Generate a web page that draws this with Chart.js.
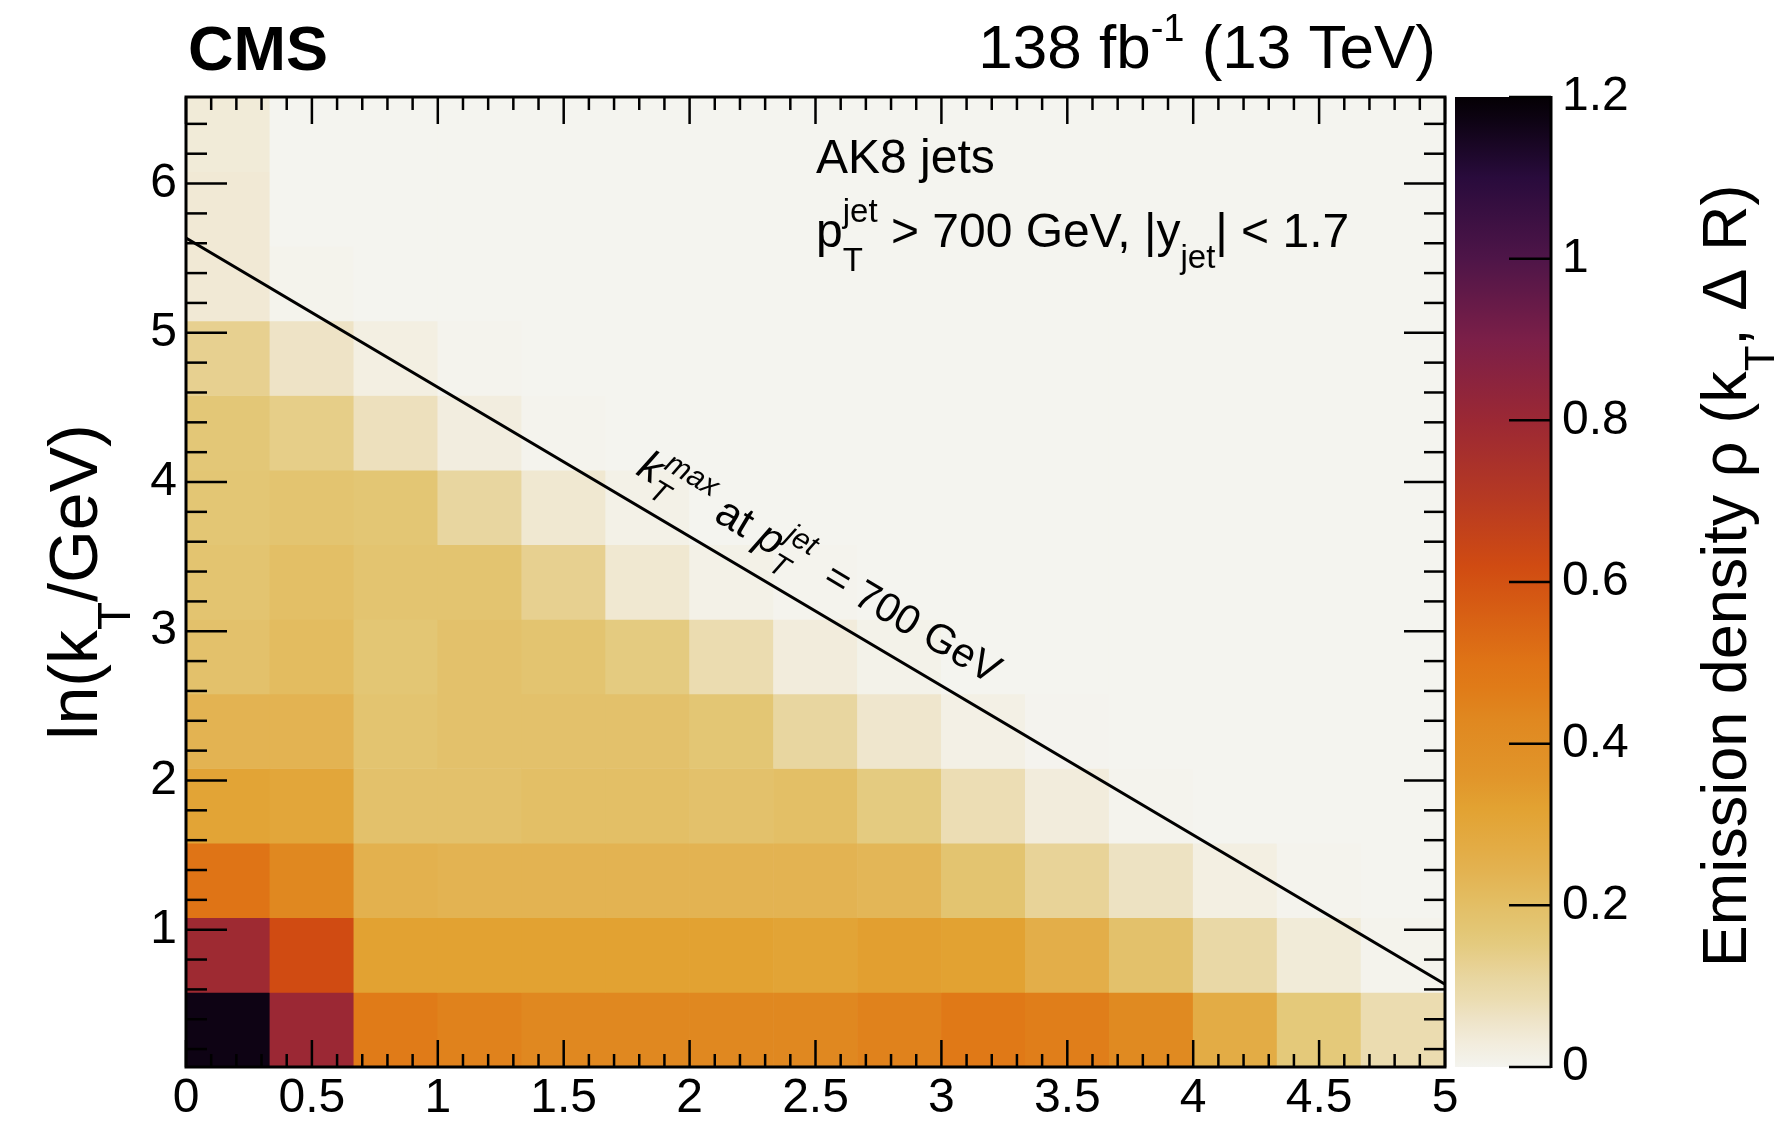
<!DOCTYPE html>
<html>
<head>
<meta charset="utf-8">
<title>Emission density</title>
<script src="https://cdn.jsdelivr.net/npm/chart.js@4.4.1/dist/chart.umd.min.js"></script>
<style>
  html, body { margin: 0; padding: 0; background: #fff; }
  #wrap { width: 1788px; height: 1121px; }
</style>
</head>
<body>
<div id="wrap"><canvas id="lund" width="1788" height="1121"></canvas></div>
<script>
// histogram binning: x = ln(R/dR), y = ln(kT/GeV)
const xEdges = [0, 0.3333, 0.6667, 1, 1.3333, 1.6667, 2, 2.3333, 2.6667, 3, 3.3333, 3.6667, 4, 4.3333, 4.6667, 5];
const yEdges = [0.08, 0.58, 1.08, 1.58, 2.08, 2.58, 3.08, 3.58, 4.08, 4.58, 5.08, 5.58, 6.08, 6.58];

// emission density, one array per ln(kT) row (bottom row first)
const rhoRow1  = [1.17, 0.80, 0.47, 0.45, 0.43, 0.43, 0.43, 0.43, 0.45, 0.48, 0.46, 0.42, 0.27, 0.16, 0.085];
const rhoRow2  = [0.79, 0.62, 0.32, 0.32, 0.32, 0.32, 0.32, 0.31, 0.33, 0.32, 0.26, 0.19, 0.10, 0.035, 0.005];
const rhoRow3  = [0.50, 0.43, 0.25, 0.24, 0.24, 0.24, 0.24, 0.24, 0.23, 0.18, 0.12, 0.065, 0.02, 0.003, 0];
const rhoRow4  = [0.31, 0.30, 0.19, 0.19, 0.20, 0.20, 0.19, 0.20, 0.15, 0.08, 0.03, 0.003, 0, 0, 0];
const rhoRow5  = [0.24, 0.24, 0.18, 0.19, 0.19, 0.19, 0.17, 0.11, 0.05, 0.015, 0.002, 0, 0, 0, 0];
const rhoRow6  = [0.19, 0.21, 0.17, 0.19, 0.18, 0.15, 0.085, 0.03, 0.008, 0, 0, 0, 0, 0, 0];
const rhoRow7  = [0.18, 0.20, 0.18, 0.18, 0.13, 0.045, 0.012, 0.003, 0, 0, 0, 0, 0, 0, 0];
const rhoRow8  = [0.17, 0.18, 0.17, 0.11, 0.045, 0.012, 0, 0, 0, 0, 0, 0, 0, 0, 0];
const rhoRow9  = [0.165, 0.14, 0.07, 0.025, 0.003, 0, 0, 0, 0, 0, 0, 0, 0, 0, 0];
const rhoRow10 = [0.13, 0.06, 0.02, 0.003, 0, 0, 0, 0, 0, 0, 0, 0, 0, 0, 0];
const rhoRow11 = [0.04, 0.004, 0, 0, 0, 0, 0, 0, 0, 0, 0, 0, 0, 0, 0];
const rhoRow12 = [0.04, 0, 0, 0, 0, 0, 0, 0, 0, 0, 0, 0, 0, 0, 0];
const rhoRow13 = [0.035, 0, 0, 0, 0, 0, 0, 0, 0, 0, 0, 0, 0, 0, 0];
const rhoRows = [rhoRow1, rhoRow2, rhoRow3, rhoRow4, rhoRow5, rhoRow6, rhoRow7,
                 rhoRow8, rhoRow9, rhoRow10, rhoRow11, rhoRow12, rhoRow13];

// kT max line for pT = 700 GeV
const lineX = [0, 5];
const lineY = [5.635, 0.635];

// tick labels
const xTicks = [0, 0.5, 1, 1.5, 2, 2.5, 3, 3.5, 4, 4.5, 5];
const yTicks = [1, 2, 3, 4, 5, 6];
const zTicks = [0, 0.2, 0.4, 0.6, 0.8, 1, 1.2];

// colour palette (value -> colour)
const paletteValues = [0, 0.01, 0.03, 0.06, 0.085, 0.11, 0.13, 0.15, 0.17, 0.19, 0.21, 0.24, 0.27,
                       0.32, 0.36, 0.43, 0.47, 0.50, 0.62, 0.70, 0.80, 0.90, 1.00, 1.10, 1.17, 1.20];
const paletteColors = ['#f4f4ef', '#f3f1e8', '#f2ecdc', '#eee3c6', '#ebdcb0', '#e8d6a0', '#e7d090',
                       '#e4cb80', '#e3c674', '#e3c16b', '#e3bc60', '#e3b352', '#e3ac45', '#e2a232',
                       '#e1952a', '#e08820', '#e07b18', '#df7416', '#d04b12', '#b73a22', '#9b2834',
                       '#7b1f48', '#4e1548', '#290b3c', '#0e0314', '#040004'];

const FONT = '"Liberation Sans", Arial, Helvetica, sans-serif';

function hexToRgb(h) {
    return [parseInt(h.slice(1, 3), 16), parseInt(h.slice(3, 5), 16), parseInt(h.slice(5, 7), 16)];
}

function paletteColor(v) {
    if (v <= paletteValues[0]) return paletteColors[0];
    for (let i = 1; i < paletteValues.length; i++) {
        if (v <= paletteValues[i]) {
            const f = (v - paletteValues[i - 1]) / (paletteValues[i] - paletteValues[i - 1]);
            const a = hexToRgb(paletteColors[i - 1]);
            const b = hexToRgb(paletteColors[i]);
            const c = a.map((ch, k) => Math.round(ch + (b[k] - ch) * f));
            return `rgb(${c[0]}, ${c[1]}, ${c[2]})`;
        }
    }
    return paletteColors[paletteColors.length - 1];
}

// text with sub/superscripts
function fontOf(p) {
    return `${p.italic ? 'italic ' : ''}${p.bold ? 'bold ' : ''}${p.size}px ${FONT}`;
}
function segWidth(ctx, s) {
    ctx.font = fontOf(s);
    return ctx.measureText(s.t).width;
}
function partWidth(ctx, p) {
    const extra = Math.max(p.sup ? segWidth(ctx, p.sup) : 0, p.sub ? segWidth(ctx, p.sub) : 0);
    return segWidth(ctx, p) + extra;
}
function drawRich(ctx, x, y, parts, align) {
    const total = parts.reduce((s, p) => s + partWidth(ctx, p), 0);
    let cx = align === 'right' ? x - total : align === 'center' ? x - total / 2 : x;
    ctx.textAlign = 'left';
    ctx.textBaseline = 'alphabetic';
    ctx.fillStyle = '#000';
    for (const p of parts) {
        const w = segWidth(ctx, p);
        ctx.fillText(p.t, cx, y + (p.dy || 0));
        let extra = 0;
        for (const s of [p.sup, p.sub]) {
            if (!s) continue;
            const ws = segWidth(ctx, s);
            ctx.fillText(s.t, cx + w, y + s.dy);
            extra = Math.max(extra, ws);
        }
        cx += w + extra;
    }
}

// build histogram cells as floating bars
const cells = [];
const cellColors = [];
rhoRows.forEach((row, r) => {
    row.forEach((v, c) => {
        cells.push({ x: (xEdges[c] + xEdges[c + 1]) / 2, y: [yEdges[r], yEdges[r + 1]] });
        cellColors.push(paletteColor(v));
    });
});

function strokeLine(ctx, x0, y0, x1, y1) {
    ctx.beginPath();
    ctx.moveTo(x0, y0);
    ctx.lineTo(x1, y1);
    ctx.stroke();
}

// no extra label padding, the frame is placed by hand
function noPad(s) {
    s.paddingTop = 0;
    s.paddingBottom = 0;
    s.paddingLeft = 0;
    s.paddingRight = 0;
}

const decorations = {
    id: 'decorations',
    beforeDatasetsDraw(chart) {
        const { ctx, chartArea: a } = chart;
        ctx.save();
        ctx.fillStyle = paletteColor(0);
        ctx.fillRect(a.left, a.top, a.width, a.height);
        ctx.restore();
    },
    afterDatasetsDraw(chart) {
        const { ctx, chartArea: a, scales } = chart;
        const x = scales.x, y = scales.y, z = scales.cb;
        ctx.save();
        ctx.strokeStyle = '#000';
        ctx.lineCap = 'butt';

        // frame ticks (ROOT style, inside)
        ctx.lineWidth = 2.5;
        for (let i = 0; i <= 50; i++) {
            const px = x.getPixelForValue(i / 10);
            const len = i % 5 === 0 ? 27 : 13;
            strokeLine(ctx, px, a.bottom, px, a.bottom - len);
            strokeLine(ctx, px, a.top, px, a.top + len);
        }
        for (let i = 1; i <= 32; i++) {
            const v = i / 5;
            if (v < y.min || v > y.max) continue;
            const py = y.getPixelForValue(v);
            const len = i % 5 === 0 ? 41 : 21;
            strokeLine(ctx, a.left, py, a.left + len, py);
            strokeLine(ctx, a.right, py, a.right - len, py);
        }
        ctx.lineWidth = 3;
        ctx.strokeRect(a.left, a.top, a.width, a.height);

        // colour bar
        const zl = a.right + 10, zr = a.right + 106;
        const zt = z.getPixelForValue(z.max), zb = z.getPixelForValue(z.min);
        const grad = ctx.createLinearGradient(0, zb, 0, zt);
        paletteValues.forEach((v, i) => grad.addColorStop(v / z.max, paletteColors[i]));
        ctx.fillStyle = grad;
        ctx.fillRect(zl, zt, zr - zl, zb - zt);
        ctx.lineWidth = 3;
        strokeLine(ctx, zr, zt - 1, zr, zb + 1);
        ctx.lineWidth = 2.5;
        zTicks.forEach(v => {
            const py = z.getPixelForValue(v);
            strokeLine(ctx, zr, py, zr - 42, py);
        });

        // kT max label along the line
        const p0x = x.getPixelForValue(lineX[0]), p0y = y.getPixelForValue(lineY[0]);
        const p1x = x.getPixelForValue(lineX[1]), p1y = y.getPixelForValue(lineY[1]);
        const ang = Math.atan2(p1y - p0y, p1x - p0x);
        const ax = 1.73;
        const ay = lineY[0] + (lineY[1] - lineY[0]) * (ax - lineX[0]) / (lineX[1] - lineX[0]);
        ctx.save();
        ctx.translate(x.getPixelForValue(ax), y.getPixelForValue(ay));
        ctx.rotate(ang);
        drawRich(ctx, 0, -26, [
            { t: 'k', size: 43, italic: true,
              sup: { t: 'max', size: 30, italic: true, dy: -19 },
              sub: { t: 'T', size: 30, italic: true, dy: 13 } },
            { t: ' at ', size: 43 },
            { t: 'p', size: 43, italic: true,
              sup: { t: 'jet', size: 30, italic: true, dy: -19 },
              sub: { t: 'T', size: 30, italic: true, dy: 15 } },
            { t: '  = 700 GeV', size: 41 }
        ], 'left');
        ctx.restore();

        ctx.restore();
    },
    afterDraw(chart) {
        const { ctx, chartArea: a } = chart;
        ctx.save();
        // header
        drawRich(ctx, a.left + 2, 70, [{ t: 'CMS', size: 63, bold: true }], 'left');
        drawRich(ctx, a.right - 9, 68, [
            { t: '138 fb', size: 62, sup: { t: '-1', size: 38, dy: -27 } },
            { t: ' (13 TeV)', size: 62 }
        ], 'right');

        // selection text
        drawRich(ctx, 816, 173, [{ t: 'AK8 jets', size: 48 }], 'left');
        drawRich(ctx, 816, 247, [
            { t: 'p', size: 48, sup: { t: 'jet', size: 33, dy: -25 }, sub: { t: 'T', size: 33, dy: 24 } },
            { t: ' > 700 GeV, |y', size: 48 },
            { t: 'jet', size: 33, dy: 21 },
            { t: '| < 1.7', size: 48 }
        ], 'left');

        // y axis title
        ctx.save();
        ctx.translate(97, (a.top + a.bottom) / 2);
        ctx.rotate(-Math.PI / 2);
        drawRich(ctx, 0, 0, [
            { t: 'ln(k', size: 68 },
            { t: 'T', size: 46, dy: 33 },
            { t: '/GeV)', size: 68 }
        ], 'center');
        ctx.restore();

        // colour bar title
        ctx.save();
        ctx.translate(1746, 576);
        ctx.rotate(-Math.PI / 2);
        drawRich(ctx, 0, 0, [
            { t: 'Emission density \u03c1 (k', size: 63 },
            { t: 'T', size: 42, dy: 28 },
            { t: ', \u0394 R)', size: 63 }
        ], 'center');
        ctx.restore();
        ctx.restore();
    }
};

const tickFont = { family: FONT, size: 48 };

new Chart(document.getElementById('lund'), {
    type: 'bar',
    data: {
        datasets: [
            {
                type: 'line',
                label: 'kT max',
                data: lineX.map((v, i) => ({ x: v, y: lineY[i] })),
                borderColor: '#000',
                borderWidth: 3,
                pointRadius: 0,
                fill: false,
                order: 1
            },
            {
                type: 'bar',
                label: 'emission density',
                data: cells,
                backgroundColor: cellColors,
                borderWidth: 0,
                barPercentage: 1,
                categoryPercentage: 1,
                order: 2
            }
        ]
    },
    options: {
        responsive: false,
        devicePixelRatio: 1,
        animation: false,
        events: [],
        layout: { padding: { top: 97, left: 0, right: 0, bottom: 0 } },
        plugins: { legend: { display: false }, tooltip: { enabled: false } },
        scales: {
            x: {
                type: 'linear', min: 0, max: 5, offset: false,
                grid: { display: false, drawTicks: false, offset: false },
                border: { display: false },
                ticks: { autoSkip: false, maxRotation: 0, padding: 3, color: '#000', font: tickFont,
                         callback: v => String(v) },
                afterBuildTicks: s => { s.ticks = xTicks.map(v => ({ value: v })); },
                afterFit: s => { s.height = 54; noPad(s); }
            },
            y: {
                type: 'linear', min: yEdges[0], max: yEdges[yEdges.length - 1],
                grid: { display: false, drawTicks: false },
                border: { display: false },
                ticks: { autoSkip: false, padding: 9, color: '#000', font: tickFont,
                         callback: v => String(v) },
                afterBuildTicks: s => { s.ticks = yTicks.map(v => ({ value: v })); },
                afterFit: s => { s.width = 186; noPad(s); }
            },
            cb: {
                type: 'linear', position: 'right', min: 0, max: 1.2,
                grid: { display: false, drawTicks: false },
                border: { display: false },
                ticks: { autoSkip: false, padding: 117, color: '#000', font: tickFont,
                         callback: v => String(v) },
                afterBuildTicks: s => { s.ticks = zTicks.map(v => ({ value: v })); },
                afterFit: s => { s.width = 343; noPad(s); }
            }
        }
    },
    plugins: [decorations]
});
</script>
</body>
</html>
